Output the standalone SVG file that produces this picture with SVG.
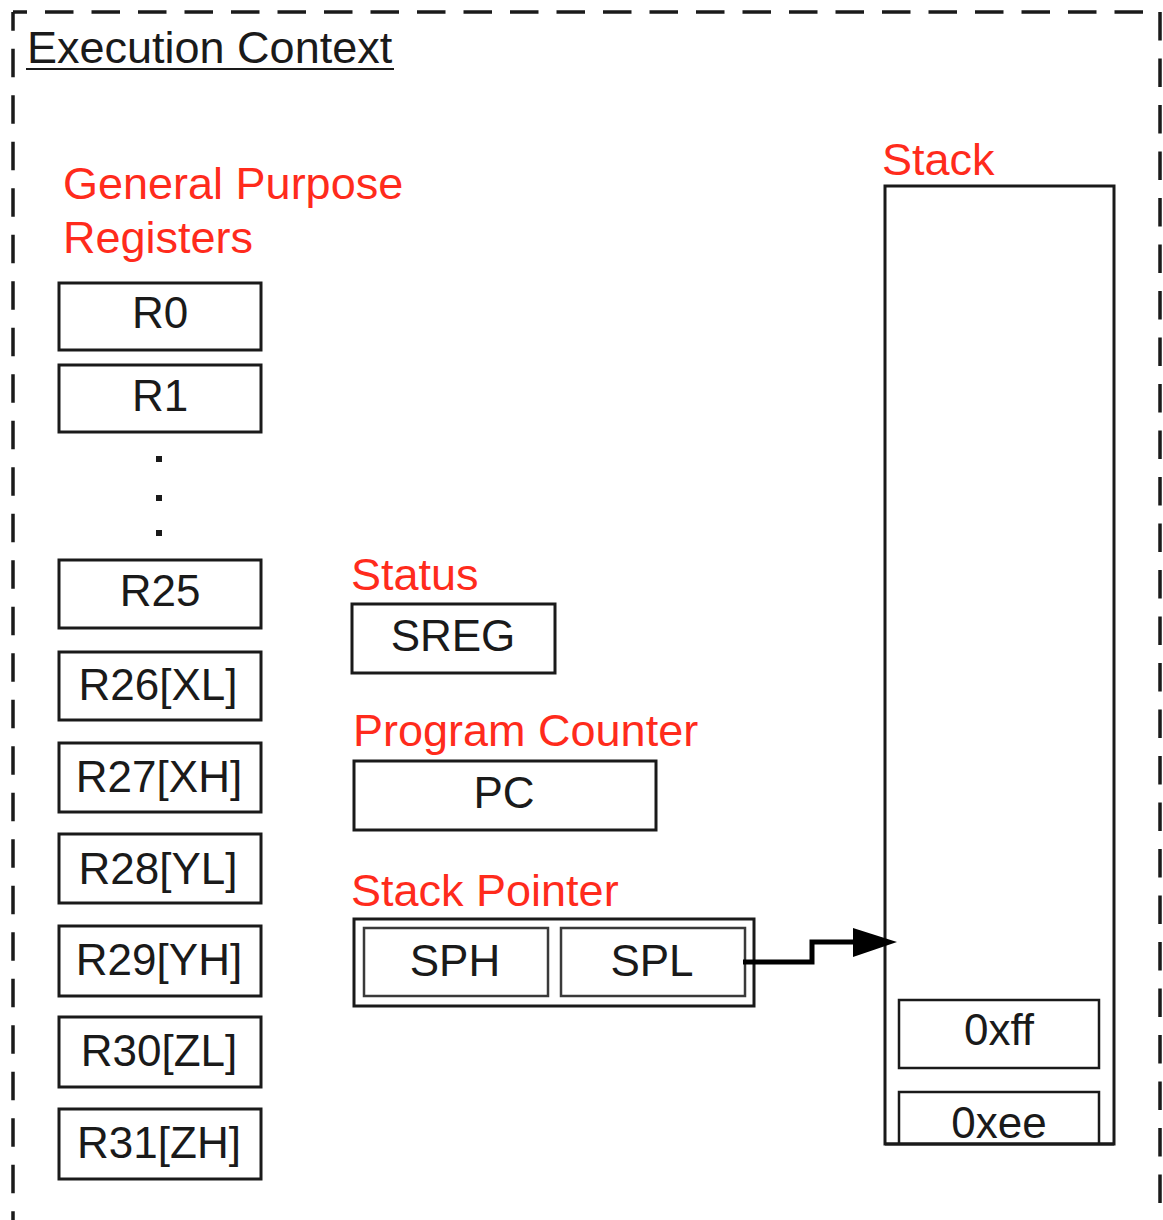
<svg xmlns="http://www.w3.org/2000/svg" width="1163" height="1220" viewBox="0 0 1163 1220">
<defs>
<style>
.bg{fill:#ffffff}
.border{fill:none;stroke:#1a1a1a;stroke-width:3.5;stroke-dasharray:28.5 18}
.box{fill:#ffffff;stroke:#1a1a1a;stroke-width:3}
.inner{fill:#ffffff;stroke:#3a3a3a;stroke-width:2.5}
.t{font-family:"Liberation Sans",Arial,sans-serif;font-size:44px;fill:#1a1a1a}
.c{text-anchor:middle}
.lbl{font-family:"Liberation Sans",Arial,sans-serif;font-size:45px;fill:#ff2b1c}
.dot{fill:#1a1a1a}
.conn{fill:none;stroke:#000000;stroke-width:5;stroke-linejoin:miter}
</style>
</defs>
<rect class="bg" x="0" y="0" width="1163" height="1220"/>

<g id="execution-context">
<path class="border" d="M13,12 V1235" style="stroke-dashoffset:9.8"/>
<path class="border" d="M13,12 H1160" style="stroke-dashoffset:14.5"/>
<path class="border" d="M1160,12 V1235"/>
<text class="t" x="27" y="63" style="font-size:45px">Execution Context</text>
<line x1="26" y1="69" x2="394" y2="69" stroke="#1a1a1a" stroke-width="2"/>
</g>

<g id="gpr-label">
<text class="lbl" x="63" y="199">General Purpose</text>
<text class="lbl" x="63" y="253">Registers</text>
</g>

<g id="R0"><rect class="box" x="59" y="283" width="202" height="67"/><text class="t c" x="160" y="328">R0</text></g>
<g id="R1"><rect class="box" x="59" y="365" width="202" height="67"/><text class="t c" x="160" y="411">R1</text></g>
<g id="ellipsis">
<rect class="dot" x="156" y="456" width="6" height="6"/>
<rect class="dot" x="156" y="495" width="6" height="6"/>
<rect class="dot" x="156" y="530" width="6" height="6"/>
</g>
<g id="R25"><rect class="box" x="59" y="560" width="202" height="68"/><text class="t c" x="160" y="606">R25</text></g>
<g id="R26"><rect class="box" x="59" y="652" width="202" height="68"/><text class="t c" x="158" y="700">R26[XL]</text></g>
<g id="R27"><rect class="box" x="59" y="743" width="202" height="69"/><text class="t c" x="159" y="792">R27[XH]</text></g>
<g id="R28"><rect class="box" x="59" y="834" width="202" height="69"/><text class="t c" x="158" y="884">R28[YL]</text></g>
<g id="R29"><rect class="box" x="59" y="926" width="202" height="70"/><text class="t c" x="159" y="975">R29[YH]</text></g>
<g id="R30"><rect class="box" x="59" y="1017" width="202" height="70"/><text class="t c" x="159" y="1066">R30[ZL]</text></g>
<g id="R31"><rect class="box" x="59" y="1109" width="202" height="70"/><text class="t c" x="159" y="1158">R31[ZH]</text></g>

<g id="status">
<text class="lbl" x="351" y="590">Status</text>
<rect class="box" x="352" y="604" width="203" height="69"/>
<text class="t c" x="453" y="651">SREG</text>
</g>

<g id="program-counter">
<text class="lbl" x="353" y="746">Program Counter</text>
<rect class="box" x="354" y="761" width="302" height="69"/>
<text class="t c" x="504" y="808">PC</text>
</g>

<g id="stack-pointer">
<text class="lbl" x="351" y="906">Stack Pointer</text>
<rect class="box" x="354" y="919" width="400" height="87"/>
<rect class="inner" x="364" y="928" width="184" height="68"/>
<text class="t c" x="455" y="976">SPH</text>
<rect class="inner" x="561" y="928" width="184" height="68"/>
<text class="t c" x="652" y="976">SPL</text>
</g>

<g id="stack">
<text class="lbl" x="882" y="175">Stack</text>
<rect class="box" x="885" y="186" width="229" height="958"/>
<rect class="box" x="899" y="1000" width="200" height="68" style="stroke-width:2.5"/>
<text class="t c" x="999" y="1045">0xff</text>
<path d="M899,1144 V1092 H1099 V1144" fill="none" stroke="#1a1a1a" stroke-width="2.5"/>
<text class="t c" x="999" y="1138">0xee</text>
<line x1="885" y1="1144" x2="1114" y2="1144" stroke="#1a1a1a" stroke-width="3"/>
</g>

<g id="connectors">
<path class="conn" d="M743,962 H812 V942 H855"/>
<polygon points="853,928 897,942 853,957" fill="#000000"/>
</g>
</svg>
